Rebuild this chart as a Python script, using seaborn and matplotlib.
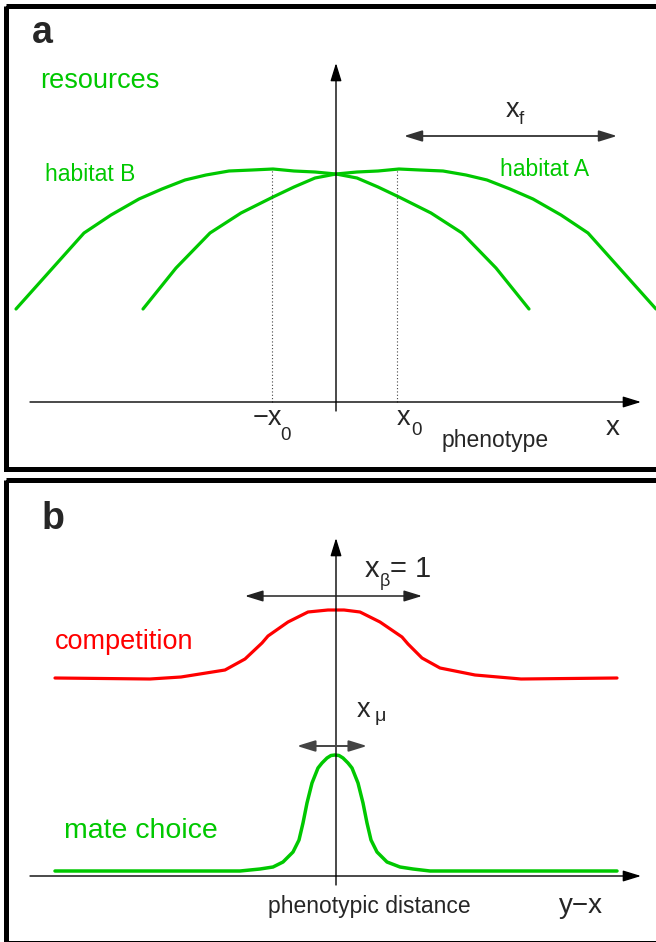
import matplotlib
matplotlib.use("Agg")
import matplotlib.pyplot as plt
from matplotlib.patches import FancyArrowPatch, Rectangle
import seaborn as sns
import pandas as pd

# ---------------- data ----------------
# Panel a: resource curves, x = phenotype, y = resource height
habitat_b_x = [-320, -252, -225, -197, -174, -151, -130, -107, -84, -63, -42, -21, 0,
               21, 42, 63, 95, 126, 160, 193]
habitat_b_y = [93, 169, 187, 203, 213, 222, 227, 231, 232, 233, 231, 230, 228,
               224, 215, 205, 189, 169, 134, 93]
habitat_a_x = [-193, -160, -126, -95, -63, -42, -21, 0, 21, 42, 63, 84, 107,
               130, 151, 174, 197, 225, 252, 320]
habitat_a_y = [93, 134, 169, 189, 205, 215, 224, 228, 230, 231, 233, 232, 231,
               227, 222, 213, 203, 187, 169, 93]
x0_positions = [-64, 61]
x0_heights = [233, 233]
x0_labels = ["\u2212x", "x"]

# Panel b: competition and mate-choice kernels vs phenotypic distance
competition_x = [-281, -186, -155, -111, -91, -74, -68, -48, -28, -8, 8, 24, 44,
                 66, 72, 86, 104, 139, 185, 281]
competition_y = [198, 197, 199, 206, 217, 233, 240, 254, 264, 266, 266, 264, 254,
                 239, 232, 218, 208, 201, 197, 198]
matechoice_x = [-281, -96, -76, -63, -53, -43, -37, -33, -29, -24, -18, -14, -9, -5, -1,
                3, 7, 12, 16, 22, 27, 31, 35, 41, 51, 64, 77, 94, 281]
matechoice_y = [5, 5, 7, 9, 14, 24, 36, 53, 73, 93, 108, 113, 118, 120.5, 121,
                120.5, 118, 113, 108, 93, 73, 53, 36, 24, 14, 9, 7, 5, 5]

# width markers (double arrows)
xf_span = [68, 281]
xf_level = 266
xbeta_span = [-91, 86]
xbeta_level = 280
xmu_span = [-39, 31]
xmu_level = 130

GREEN = "#00c800"
RED = "#ff0000"

sns.set_style("white")
plt.rcParams["font.family"] = ["Liberation Sans", "DejaVu Sans"]

fig = plt.figure(figsize=(6.56, 9.42), dpi=100)

# overlay for the panel frames
ov = fig.add_axes([0, 0, 1, 1])
ov.set_xlim(0, 656)
ov.set_ylim(942, 0)
ov.axis("off")
ov.add_patch(Rectangle((5.5, 5.5), 700, 463, fill=False, lw=3.6, ec="black"))
ov.add_patch(Rectangle((5.5, 480), 700, 463, fill=False, lw=3.6, ec="black"))

ax_a = fig.add_axes([0, 472 / 942, 1, 470 / 942])
ax_b = fig.add_axes([0, 0, 1, 472 / 942])
for ax in (ax_a, ax_b):
    ax.axis("off")
    ax.patch.set_alpha(0)


def arrow(ax, p0, p1, style, color="black", lw=1.0, hl=11, hw=3.4):
    ax.add_patch(FancyArrowPatch(p0, p1, arrowstyle=f"{style},head_length={hl},head_width={hw}",
                                 mutation_scale=1, shrinkA=0, shrinkB=0, color=color,
                                 lw=lw, zorder=5))


# ---------------- panel a ----------------
df_b = pd.DataFrame({"x": habitat_b_x, "y": habitat_b_y})
df_a = pd.DataFrame({"x": habitat_a_x, "y": habitat_a_y})
sns.lineplot(data=df_b, x="x", y="y", ax=ax_a, sort=False, estimator=None,
             color=GREEN, lw=2.3)
sns.lineplot(data=df_a, x="x", y="y", ax=ax_a, sort=False, estimator=None,
             color=GREEN, lw=2.3)
ax_a.set_xlim(-336, 320)
ax_a.set_ylim(-68, 402)
ax_a.axis("off")
for xv, hv in zip(x0_positions, x0_heights):
    ax_a.plot([xv, xv], [0, hv], color="#444444", lw=0.8, ls=(0, (1, 2)))

arrow(ax_a, (-306, 0), (305, 0), "-|>")
arrow(ax_a, (0, -9), (0, 339), "-|>")
arrow(ax_a, (xf_span[0], xf_level), (xf_span[1], xf_level), "<|-|>", color="#333333", lw=1.3)

ax_a.text(-304, 359, "a", fontsize=27, fontweight="bold", ha="left", va="baseline")
ax_a.text(-296, 314, "resources", fontsize=19.5, color=GREEN, ha="left", va="baseline")
ax_a.text(-291, 221, "habitat B", fontsize=16.5, color=GREEN, ha="left", va="baseline")
ax_a.text(164, 226, "habitat A", fontsize=16.5, color=GREEN, ha="left", va="baseline")
ax_a.text(170, 285, "x", fontsize=19.5, ha="left", va="baseline")
ax_a.text(183, 278, "f", fontsize=13.5, ha="left", va="baseline")
ax_a.text(-83, -23, x0_labels[0], fontsize=19.5, ha="left", va="baseline")
ax_a.text(-56, -38, "0", fontsize=13.5, ha="left", va="baseline")
ax_a.text(61, -23, x0_labels[1], fontsize=19.5, ha="left", va="baseline")
ax_a.text(75, -33, "0", fontsize=13.5, ha="left", va="baseline")
ax_a.text(106, -45, "phenotype", fontsize=16.5, ha="left", va="baseline")
ax_a.text(270, -33, "x", fontsize=20, ha="left", va="baseline")

# ---------------- panel b ----------------
df_c = pd.DataFrame({"x": competition_x, "y": competition_y})
df_m = pd.DataFrame({"x": matechoice_x, "y": matechoice_y})
sns.lineplot(data=df_c, x="x", y="y", ax=ax_b, sort=False, estimator=None,
             color=RED, lw=2.3)
sns.lineplot(data=df_m, x="x", y="y", ax=ax_b, sort=False, estimator=None,
             color=GREEN, lw=2.5)
ax_b.set_xlim(-336, 320)
ax_b.set_ylim(-66, 406)
ax_b.axis("off")

arrow(ax_b, (-306, 0), (305, 0), "-|>")
arrow(ax_b, (0, -9), (0, 338), "-|>")
arrow(ax_b, (xbeta_span[0], xbeta_level), (xbeta_span[1], xbeta_level), "<|-|>", color="#222222", lw=1.1)
arrow(ax_b, (xmu_span[0], xmu_level), (xmu_span[1], xmu_level), "<|-|>", color="#444444", lw=1.4)

ax_b.text(-294, 347, "b", fontsize=27, fontweight="bold", ha="left", va="baseline")
ax_b.text(-281, 227, "competition", fontsize=19.5, color=RED, ha="left", va="baseline")
ax_b.text(-272, 38, "mate choice", fontsize=20.5, color=GREEN, ha="left", va="baseline")
ax_b.text(29, 299, "x", fontsize=21, ha="left", va="baseline")
ax_b.text(44, 290, "\u03b2", fontsize=13, ha="left", va="baseline")
ax_b.text(54, 299, "= 1", fontsize=21, ha="left", va="baseline")
ax_b.text(21, 159, "x", fontsize=19.5, ha="left", va="baseline")
ax_b.text(39, 155, "\u03bc", fontsize=14, ha="left", va="baseline")
ax_b.text(-68, -37, "phenotypic distance", fontsize=16.5, ha="left", va="baseline")
ax_b.text(223, -37, "y\u2212x", fontsize=20, ha="left", va="baseline")

fig.savefig("out.png", dpi=100)
